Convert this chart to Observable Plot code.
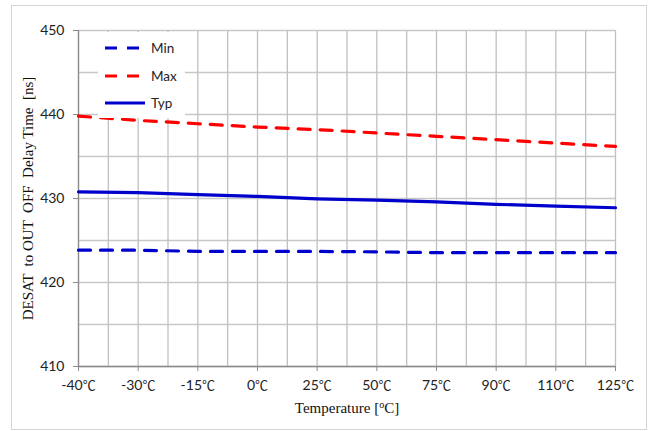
<!DOCTYPE html>
<html><head><meta charset="utf-8">
<script src="https://cdn.jsdelivr.net/npm/d3@7"></script>
<script src="https://cdn.jsdelivr.net/npm/@observablehq/plot@0.6"></script>
<style>
body{margin:0;background:#fff;}
#wrap{position:relative;width:653px;height:431px;overflow:hidden;}
#frame{position:absolute;left:11px;top:5px;width:636px;height:425px;border:1px solid #d4d4d4;box-sizing:border-box;pointer-events:none;}
#legend{position:absolute;left:98px;top:32px;width:87px;height:86px;background:#fff;font-family:Lato,"Liberation Sans",sans-serif;font-size:13.5px;color:#222;}
#legend .row{position:absolute;left:6px;height:20px;display:flex;align-items:center;}
#legend svg{margin-right:5px;}
</style>
</head><body>
<div id="wrap"><div id="chart"></div><div id="frame"></div><div id="legend"></div></div>
<script>
const temps = ["-40℃","-30℃","-15℃","0℃","25℃","50℃","75℃","90℃","110℃","125℃"];
const minV = [423.85,423.85,423.7,423.7,423.7,423.65,423.55,423.55,423.55,423.55];
const maxV = [439.8,439.3,438.9,438.5,438.2,437.8,437.4,437.0,436.6,436.2];
const typV = [430.8,430.7,430.45,430.25,429.95,429.8,429.6,429.3,429.1,428.9];
const yTicks = [410,420,430,440,450];
const yGrid = [410,415,420,425,430,435,440,445,450];
const xGrid = [0,0.5,1,1.5,2,2.5,3,3.5,4,4.5,5,5.5,6,6.5,7,7.5,8,8.5,9];
const series = [
  {name:"Min", values:minV, color:"#0000cc", dash:"12,10"},
  {name:"Max", values:maxV, color:"#ff0000", dash:"12,10"},
  {name:"Typ", values:typV, color:"#0000cc", dash:null}
];
const yTitle = "DESAT  to OUT  OFF  Delay Time  [ns]";
const xTitle = "Temperature [oC]";

const sans = "Lato, 'Liberation Sans', sans-serif";
const serif = "'Liberation Serif', 'DejaVu Serif', serif";
const cjk = "'Noto Sans CJK JP', sans-serif";

const plot = Plot.plot({
  width:653, height:431,
  marginLeft:78, marginRight:38, marginTop:30, marginBottom:65,
  style:{fontFamily:sans, fontSize:"14px", color:"#222", background:"#fff"},
  x:{domain:[0,9]},
  y:{domain:[410,450]},
  marks:[
    Plot.ruleY(yGrid,{stroke:"#c8c8c8", strokeWidth:1.3}),
    Plot.ruleX(xGrid,{stroke:"#c0c0c0", strokeWidth:1.3}),
    Plot.ruleX([0],{stroke:"#8c8c8c", strokeWidth:1.3}),
    Plot.ruleY([410],{stroke:"#8c8c8c", strokeWidth:1.3}),
    Plot.axisY({ticks:yTicks, tickSize:5, tickPadding:9, label:null, stroke:"#8c8c8c"}),
    Plot.axisX({ticks:d3.range(temps.length), tickFormat:i=>temps[i], tickSize:5, tickPadding:9, label:null, stroke:"#8c8c8c"}),
    ...series.map(s => Plot.lineY(s.values,{x:(d,i)=>i, y:d=>d, stroke:s.color, strokeWidth:3.2, strokeDasharray:s.dash})),
    Plot.text([yTitle],{frameAnchor:"left", textAnchor:"middle", dx:-50, rotate:-90, fontFamily:serif, fontSize:15, fill:"#111"}),
    Plot.text([xTitle],{frameAnchor:"bottom", dy:46, fontFamily:serif, fontSize:15, fill:"#111"})
  ]
});
document.getElementById("chart").appendChild(plot);
d3.select(plot).selectAll("text").style("white-space","pre");
// render the ℃ sign with a CJK font, as in the reference
d3.select(plot).selectAll('g[aria-label="x-axis tick label"] text').each(function(){
  const t = d3.select(this);
  const s = t.text();
  if (s.endsWith("℃")) {
    t.text(null);
    t.append("tspan").text(s.slice(0,-1));
    t.append("tspan").attr("font-family", cjk).attr("font-size", 13).text("℃");
  }
});
// superscript "o" in the x title
d3.select(plot).selectAll("text").each(function(){
  const t = d3.select(this);
  if (t.text() === xTitle) {
    t.text(null);
    t.append("tspan").text("Temperature [");
    t.append("tspan").attr("font-size", 10).attr("dy", -5).text("o");
    t.append("tspan").attr("dy", 5).text("C]");
  }
});

const leg = document.getElementById("legend");
series.forEach((s,k)=>{
  const row = document.createElement("div");
  row.className="row";
  row.style.top = (6 + k*27.5) + "px";
  row.innerHTML = `<svg width="42" height="6"><line x1="1" y1="3" x2="41" y2="3" stroke="${s.color}" stroke-width="3.2" ${s.dash?'stroke-dasharray="12,10"':''}/></svg><span>${s.name}</span>`;
  leg.appendChild(row);
});
</script>
</body></html>
